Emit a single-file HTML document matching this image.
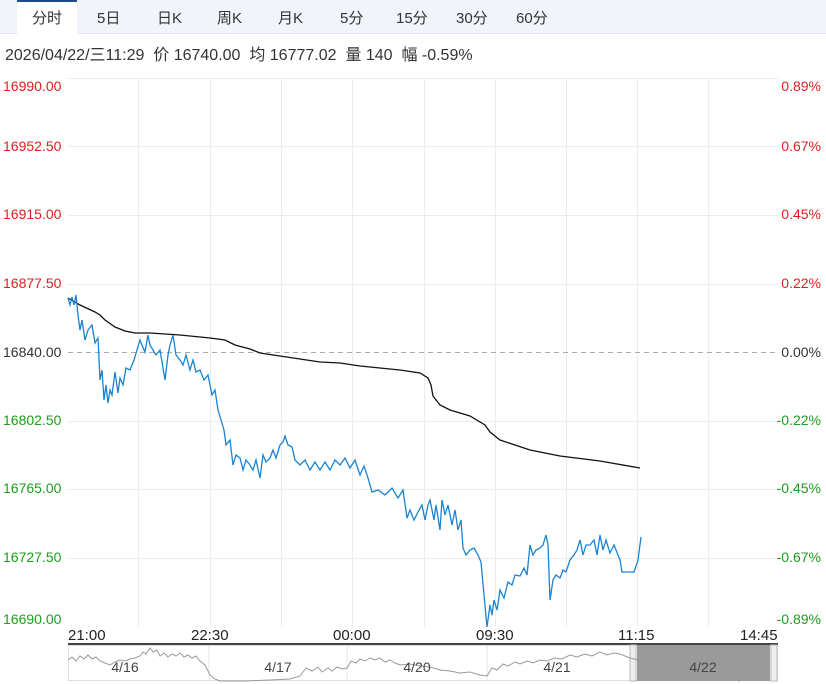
<!DOCTYPE html>
<html><head><meta charset="utf-8"><style>
body{margin:0;width:826px;height:684px;background:#fff;font-family:"Liberation Sans","Noto Sans CJK SC",sans-serif;overflow:hidden;position:relative}
.tabs{position:absolute;left:0;top:0;width:826px;height:33px;background:#f1f5fb;border-bottom:1px solid #e2e8f0}
.tab{position:absolute;top:7px;font-size:15px;color:#333}
.act{position:absolute;left:17px;top:0;width:60px;height:34px;background:#fff;border-top:2px solid #1c4a8a;box-sizing:border-box}
.info{position:absolute;left:5px;top:41px;font-size:16px;color:#333}
.l{position:absolute;left:3px;font-size:14px}
.r{position:absolute;right:5px;font-size:14px}
.red{color:#e02020}.grn{color:#1aa01a}.blk{color:#333}
.t{position:absolute;top:627px;font-size:15px;color:#222}
</style></head><body>
<div class="tabs"><div class="act"></div>
<span class="tab" style="left:32px">分时</span><span class="tab" style="left:97px">5日</span><span class="tab" style="left:157px">日K</span><span class="tab" style="left:217px">周K</span><span class="tab" style="left:278px">月K</span><span class="tab" style="left:340px">5分</span><span class="tab" style="left:396px">15分</span><span class="tab" style="left:456px">30分</span><span class="tab" style="left:516px">60分</span></div>
<div class="info">2026/04/22/三11:29&nbsp; 价 16740.00&nbsp; 均 16777.02&nbsp; 量 140&nbsp; 幅 -0.59%</div>
<svg style="position:absolute;left:0;top:0" width="826" height="684">
<g stroke="#ececec" stroke-width="1">
<line x1="68" y1="78.5" x2="778" y2="78.5"/><line x1="68" y1="146.5" x2="778" y2="146.5"/><line x1="68" y1="215.5" x2="778" y2="215.5"/><line x1="68" y1="284.5" x2="778" y2="284.5"/><line x1="68" y1="421.5" x2="778" y2="421.5"/><line x1="68" y1="489.5" x2="778" y2="489.5"/><line x1="68" y1="558.5" x2="778" y2="558.5"/>
<line x1="138.5" y1="78" x2="138.5" y2="627"/><line x1="210.5" y1="78" x2="210.5" y2="627"/><line x1="281.5" y1="78" x2="281.5" y2="627"/><line x1="352.5" y1="78" x2="352.5" y2="627"/><line x1="424.5" y1="78" x2="424.5" y2="627"/><line x1="495.5" y1="78" x2="495.5" y2="627"/><line x1="566.5" y1="78" x2="566.5" y2="627"/><line x1="637.5" y1="78" x2="637.5" y2="627"/><line x1="708.5" y1="78" x2="708.5" y2="627"/>
</g>
<line x1="68" y1="352.5" x2="778" y2="352.5" stroke="#aaa" stroke-dasharray="5,4"/>
<polyline fill="none" stroke="#111" stroke-width="1.3" points="68,298 80,305 95,312 100,315 105,320 115,327 125,331 135,333 150,333 180,335 210,338 225,340 235,345 250,349 260,353 280,356 300,359 320,362 340,363 360,366 380,368 400,370 420,373 428,378 431,385 433,396 440,405 450,410 470,416 485,425 490,432 500,440 515,445 530,450 560,456 600,461 640,468"/>
<polyline fill="none" stroke="#1a84d0" stroke-width="1.3" points="68,298 70,305 72,297 74,305 76,295 78,315 80,330 82,320 85,340 88,330 92,325 95,343 98,338 100,380 102,370 104,400 106,385 108,403 110,390 112,395 115,372 118,393 120,378 123,385 126,368 130,370 134,360 137,350 140,340 142,345 145,352 148,335 150,345 153,350 156,355 160,350 162,362 165,380 168,355 170,345 173,335 176,355 180,360 183,365 186,355 190,370 193,360 196,372 200,370 204,380 208,375 212,395 215,390 218,410 221,420 224,430 226,445 230,440 233,465 236,455 240,458 243,470 246,460 250,465 253,470 256,460 260,478 263,455 266,462 270,458 273,450 276,458 280,445 283,442 285,436 288,445 292,447 295,460 300,465 305,460 310,470 315,462 320,470 325,462 330,470 335,460 340,465 345,458 350,468 355,460 360,475 364,466 368,478 372,492 378,490 385,495 392,488 398,498 403,490 407,518 410,510 414,520 418,512 422,505 425,520 428,505 430,500 434,520 436,505 440,530 442,500 445,515 448,505 452,525 455,510 458,530 461,520 463,548 466,555 470,550 474,548 478,555 481,562 484,595 487,627 490,605 492,615 494,600 497,610 500,590 504,598 508,582 512,585 515,575 520,576 524,568 527,575 530,545 533,555 536,550 540,548 543,545 546,535 548,545 550,600 553,580 556,575 560,578 563,570 566,572 570,560 574,555 577,550 580,540 583,555 586,545 590,545 594,540 597,555 600,535 603,550 606,540 610,553 614,545 618,555 620,560 622,572 634,572 638,560 641,537"/>
<line x1="68" y1="644" x2="778" y2="644" stroke="#444" stroke-width="2"/>
<rect x="68.5" y="645.5" width="709" height="35" fill="#fff" stroke="#ddd"/>
<rect x="637" y="645" width="133" height="36" fill="#9a9a9a"/>
<rect x="630" y="645" width="6" height="36" fill="#eee" stroke="#bbb"/>
<rect x="771" y="645" width="6" height="36" fill="#eee" stroke="#bbb"/>
<g stroke="#e6e6e6"><line x1="209" y1="645" x2="209" y2="681"/><line x1="347" y1="645" x2="347" y2="681"/><line x1="487" y1="645" x2="487" y2="681"/></g>
<polyline fill="none" stroke="#999" stroke-width="1" points="68,660 72,657 76,661 80,656 84,659 88,655 92,659 96,657 100,661 105,663 110,665 115,662 120,660 125,661 130,659 135,658 140,656 143,652 146,654 150,648 153,652 157,650 160,656 164,653 168,657 172,654 176,656 180,653 184,657 188,655 192,658 196,656 200,661 205,665 210,675 215,679 220,681 245,681 270,680 290,679 300,676 306,668 312,671 318,667 322,672 328,668 332,671 337,667 342,669 347,668 351,661 356,663 360,659 365,661 370,658 375,660 380,658 385,662 390,660 395,663 400,665 410,664 420,666 430,667 440,670 450,671 460,673 470,672 480,675 487,676 492,668 497,670 503,664 508,666 515,662 520,664 527,661 533,663 540,660 547,661 555,658 562,659 570,655 577,657 585,654 592,656 600,652 607,655 614,653 620,654 625,656 630,658 638,660 643,657 648,662 653,659 660,663 668,665 675,668 682,667 690,670 700,672 710,675 720,677 730,679 740,681"/>
<g font-size="14" fill="#444" font-family="Liberation Sans,sans-serif"><text x="125" y="672" text-anchor="middle">4/16</text><text x="278" y="672" text-anchor="middle">4/17</text><text x="417" y="672" text-anchor="middle">4/20</text><text x="557" y="672" text-anchor="middle">4/21</text><text x="703" y="672" text-anchor="middle">4/22</text></g>
</svg>
<div class="l red" style="top:78px">16990.00</div><div class="l red" style="top:138px">16952.50</div><div class="l red" style="top:206px">16915.00</div><div class="l red" style="top:275px">16877.50</div><div class="l blk" style="top:344px">16840.00</div><div class="l grn" style="top:412px">16802.50</div><div class="l grn" style="top:480px">16765.00</div><div class="l grn" style="top:549px">16727.50</div><div class="l grn" style="top:611px">16690.00</div>
<div class="r red" style="top:78px">0.89%</div><div class="r red" style="top:138px">0.67%</div><div class="r red" style="top:206px">0.45%</div><div class="r red" style="top:275px">0.22%</div><div class="r blk" style="top:344px">0.00%</div><div class="r grn" style="top:412px">-0.22%</div><div class="r grn" style="top:480px">-0.45%</div><div class="r grn" style="top:549px">-0.67%</div><div class="r grn" style="top:611px">-0.89%</div>
<span class="t" style="left:68px">21:00</span><span class="t" style="left:191px">22:30</span><span class="t" style="left:333px">00:00</span><span class="t" style="left:476px">09:30</span><span class="t" style="left:618px">11:15</span><span class="t" style="left:740px">14:45</span>
</body></html>
